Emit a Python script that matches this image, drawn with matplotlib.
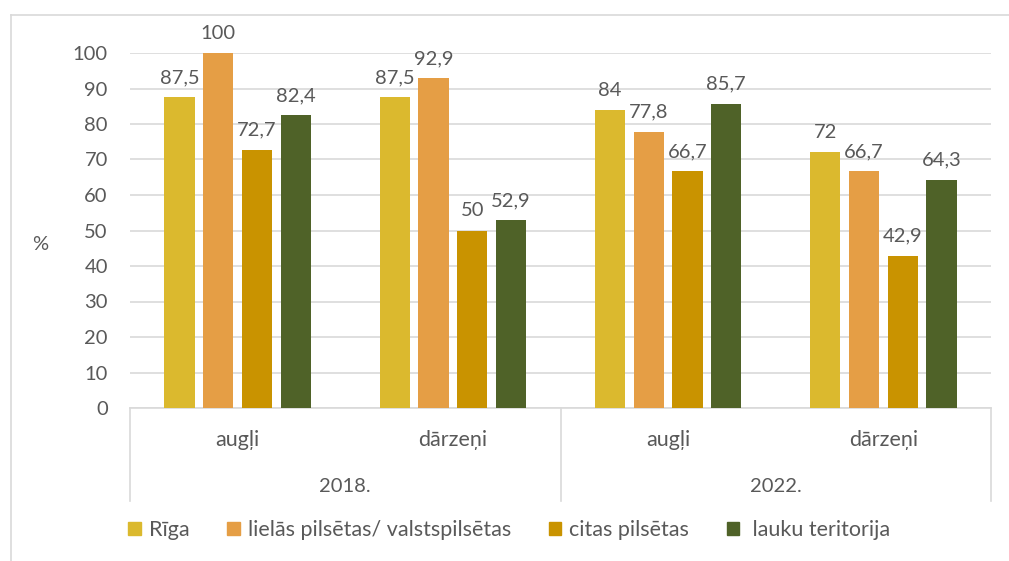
import numpy as np
import matplotlib
matplotlib.use("Agg")
import matplotlib.pyplot as plt
from matplotlib.patches import Patch
from matplotlib.lines import Line2D

plt.rcParams["font.family"] = ["Lato", "DejaVu Sans"]

years = ["2018.", "2022."]
products = ["augļi", "dārzeņi", "augļi", "dārzeņi"]
series = ["Rīga", "lielās pilsētas/ valstspilsētas", "citas pilsētas", " lauku teritorija"]
riga = [87.5, 87.5, 84, 72]
lielas = [100, 92.9, 77.8, 66.7]
citas = [72.7, 50, 66.7, 42.9]
lauku = [82.4, 52.9, 85.7, 64.3]
yticks = list(range(0, 101, 10))

colors = ["#DBB92E", "#E59E45", "#C99300", "#4F6228"]
txt = "#595959"
grid = "#D9D9D9"
num_fs = 14.5
lab_fs = 15.5

fig = plt.figure(figsize=(10.09, 5.61), dpi=100)
ax = fig.add_axes([130 / 1009, 1 - 408 / 561, 861 / 1009, 355 / 561])

x = np.arange(len(products))
step = 0.18
width = 0.14
for i, (vals, col) in enumerate(zip([riga, lielas, citas, lauku], colors)):
    pos = x + (i - 1.5) * step
    bars = ax.bar(pos, vals, width=width, color=col, zorder=3)
    for b, v in zip(bars, vals):
        lab = ("%g" % v).replace(".", ",")
        ax.annotate(lab, (b.get_x() + b.get_width() / 2, v), xytext=(0, 8),
                    textcoords="offset points", ha="center", va="bottom",
                    fontsize=num_fs, color=txt, annotation_clip=False)

ax.set_xlim(-0.5, 3.5)
ax.set_ylim(0, 100)
ax.set_yticks(yticks)
ax.set_yticklabels([str(t) for t in yticks], fontsize=num_fs, color=txt)
ax.tick_params(axis="y", length=0, pad=16)
ax.set_xticks([])
ax.yaxis.grid(True, color=grid, lw=1.2, zorder=0)
for s in ["left", "right", "top"]:
    ax.spines[s].set_visible(False)
ax.spines["bottom"].set_color(grid)
ax.spines["bottom"].set_linewidth(1.2)

# multi-level category axis
tr = ax.get_xaxis_transform()
for xs in [-0.5, 1.5, 3.5]:
    ax.add_line(Line2D([xs, xs], [0, -0.262], transform=tr, color=grid, lw=1.2, clip_on=False))
for xi, p in zip(x, products):
    ax.text(xi, -0.09, p, transform=tr, ha="center", va="center", fontsize=lab_fs, color=txt)
for j, y in enumerate(years):
    ax.text(0.5 + 2 * j, -0.22, y, transform=tr, ha="center", va="center", fontsize=num_fs, color=txt)

fig.text(40 / 1009, 1 - 245 / 561, "%", ha="center", va="center", fontsize=num_fs, color=txt)

# chart border
fig.add_artist(Line2D([11 / 1009, 11 / 1009], [0, 1 - 15 / 561], color=grid, lw=1.2))
fig.add_artist(Line2D([11 / 1009, 1], [1 - 15 / 561, 1 - 15 / 561], color=grid, lw=1.2))

handles = [Patch(color=c) for c in colors]
fig.legend(handles, series, loc="center left", bbox_to_anchor=(109 / 1009, 1 - 530 / 561),
           ncol=4, frameon=False, fontsize=lab_fs, labelcolor=txt, handlelength=0.6,
           handleheight=0.6, handletextpad=0.35, columnspacing=1.75)

fig.savefig("out.png", dpi=100)
